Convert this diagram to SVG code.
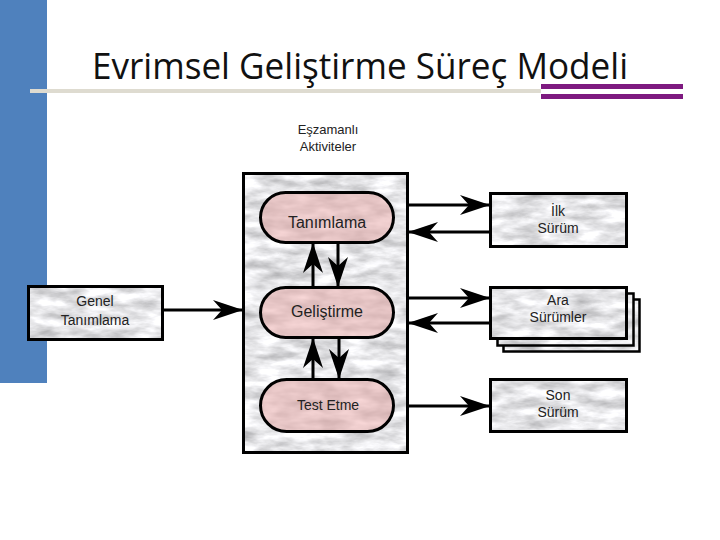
<svg xmlns="http://www.w3.org/2000/svg" width="720" height="540" viewBox="0 0 720 540">
<defs>
<style>
.lbl{font-family:"Liberation Sans",Arial,sans-serif;fill:#222;text-anchor:middle}
.conn{stroke:#000;stroke-width:3;fill:none}
.edge{fill:none;stroke:#000;stroke-width:3}
</style>
<filter id="marble" x="0" y="0" width="1" height="1" color-interpolation-filters="sRGB">
<feTurbulence type="fractalNoise" baseFrequency="0.035 0.1" numOctaves="4" seed="7"/>
<feColorMatrix type="matrix" values="0.5 0 0 0 0.65  0.5 0 0 0 0.65  0.5 0 0 0 0.66  0 0 0 0 1"/>
<feComposite in2="SourceGraphic" operator="in"/>
</filter>
<filter id="pinkm" x="0" y="0" width="1" height="1" color-interpolation-filters="sRGB">
<feTurbulence type="fractalNoise" baseFrequency="0.035 0.1" numOctaves="3" seed="3"/>
<feColorMatrix type="matrix" values="0.2 0 0 0 0.8  0.2 0 0 0 0.67  0.2 0 0 0 0.67  0 0 0 0 1"/>
<feComposite in2="SourceGraphic" operator="in"/>
</filter>
<marker id="ah" markerUnits="userSpaceOnUse" markerWidth="32" markerHeight="22" refX="30" refY="11" orient="auto">
<path d="M0,1 L30,11 L0,21 L9,11 z" fill="#000"/>
</marker>
</defs>
<rect width="720" height="540" fill="#fff"/>
<g id="header">
<rect x="0" y="0" width="47" height="383" fill="#4f81bd"/>
<rect x="30" y="89" width="511" height="4" fill="#dedbd0"/>
<rect x="541" y="84" width="142" height="5" fill="#7e1a80"/>
<rect x="541" y="94" width="142" height="5" fill="#7e1a80"/>
<text x="92" y="79" font-family="'Open Sans','Noto Sans',sans-serif" font-size="36" fill="#111" textLength="536" lengthAdjust="spacingAndGlyphs">Evrimsel Geliştirme Süreç Modeli</text>
</g>
<g id="label-eszamanli">
<text class="lbl" x="328" y="134" style="font-size:13px">Eşzamanlı</text>
<text class="lbl" x="328" y="151" style="font-size:13px">Aktiviteler</text>
</g>
<g id="container">
<rect x="243.5" y="173.5" width="164" height="279" fill="#ddd" filter="url(#marble)"/>
<rect class="edge" x="243.5" y="173.5" width="164" height="279"/>
</g>
<g id="connectors">
<line class="conn" x1="163" y1="310" x2="243" y2="310" marker-end="url(#ah)"/>
<line class="conn" x1="313" y1="287" x2="313" y2="243" marker-end="url(#ah)"/>
<line class="conn" x1="338" y1="243" x2="338" y2="287" marker-end="url(#ah)"/>
<line class="conn" x1="313" y1="379" x2="313" y2="338" marker-end="url(#ah)"/>
<line class="conn" x1="339" y1="338" x2="339" y2="379" marker-end="url(#ah)"/>
<line class="conn" x1="408" y1="205" x2="490" y2="205" marker-end="url(#ah)"/>
<line class="conn" x1="490" y1="232" x2="408" y2="232" marker-end="url(#ah)"/>
<line class="conn" x1="408" y1="298" x2="490" y2="298" marker-end="url(#ah)"/>
<line class="conn" x1="490" y1="323" x2="408" y2="323" marker-end="url(#ah)"/>
<line class="conn" x1="408" y1="406" x2="490" y2="406" marker-end="url(#ah)"/>
</g>
<g id="tanimlama">
<rect x="260.5" y="192.5" width="133" height="50" rx="25" fill="#e8c6c6" filter="url(#pinkm)"/>
<rect class="edge" x="260.5" y="192.5" width="133" height="50" rx="25"/>
<text class="lbl" x="327" y="228" style="font-size:16px">Tanımlama</text>
</g>
<g id="gelistirme">
<rect x="260.5" y="287.5" width="133" height="50" rx="25" fill="#e8c6c6" filter="url(#pinkm)"/>
<rect class="edge" x="260.5" y="287.5" width="133" height="50" rx="25"/>
<text class="lbl" x="327" y="317" style="font-size:16px">Geliştirme</text>
</g>
<g id="test-etme">
<rect x="260.5" y="379.5" width="133" height="52" rx="26" fill="#e8c6c6" filter="url(#pinkm)"/>
<rect class="edge" x="260.5" y="379.5" width="133" height="52" rx="26"/>
<text class="lbl" x="328" y="410" style="font-size:14px">Test Etme</text>
</g>
<g id="genel-tanimlama">
<rect x="28.5" y="286.5" width="134" height="53" fill="#ddd" filter="url(#marble)"/>
<rect class="edge" x="28.5" y="286.5" width="134" height="53"/>
<text class="lbl" x="95" y="306" style="font-size:14px">Genel</text>
<text class="lbl" x="95" y="325" style="font-size:14px">Tanımlama</text>
</g>
<g id="ilk-surum">
<rect x="490.5" y="193.5" width="136" height="53" fill="#ddd" filter="url(#marble)"/>
<rect class="edge" x="490.5" y="193.5" width="136" height="53"/>
<text class="lbl" x="558" y="216" style="font-size:14px">İlk</text>
<text class="lbl" x="558" y="233" style="font-size:14px">Sürüm</text>
</g>
<g id="ara-surumler">
<rect x="503.5" y="299.5" width="136" height="52" fill="#ddd" filter="url(#marble)"/>
<rect class="edge" x="503.5" y="299.5" width="136" height="52" style="stroke-width:2.5"/>
<rect x="497.5" y="293.5" width="136" height="52" fill="#ddd" filter="url(#marble)"/>
<rect class="edge" x="497.5" y="293.5" width="136" height="52" style="stroke-width:2.5"/>
<rect x="490.5" y="287.5" width="136" height="51" fill="#ddd" filter="url(#marble)"/>
<rect class="edge" x="490.5" y="287.5" width="136" height="51"/>
<text class="lbl" x="558" y="305" style="font-size:14px">Ara</text>
<text class="lbl" x="558" y="322" style="font-size:14px">Sürümler</text>
</g>
<g id="son-surum">
<rect x="490.5" y="379.5" width="136" height="52" fill="#ddd" filter="url(#marble)"/>
<rect class="edge" x="490.5" y="379.5" width="136" height="52"/>
<text class="lbl" x="558" y="400" style="font-size:14px">Son</text>
<text class="lbl" x="558" y="417" style="font-size:14px">Sürüm</text>
</g>
</svg>
